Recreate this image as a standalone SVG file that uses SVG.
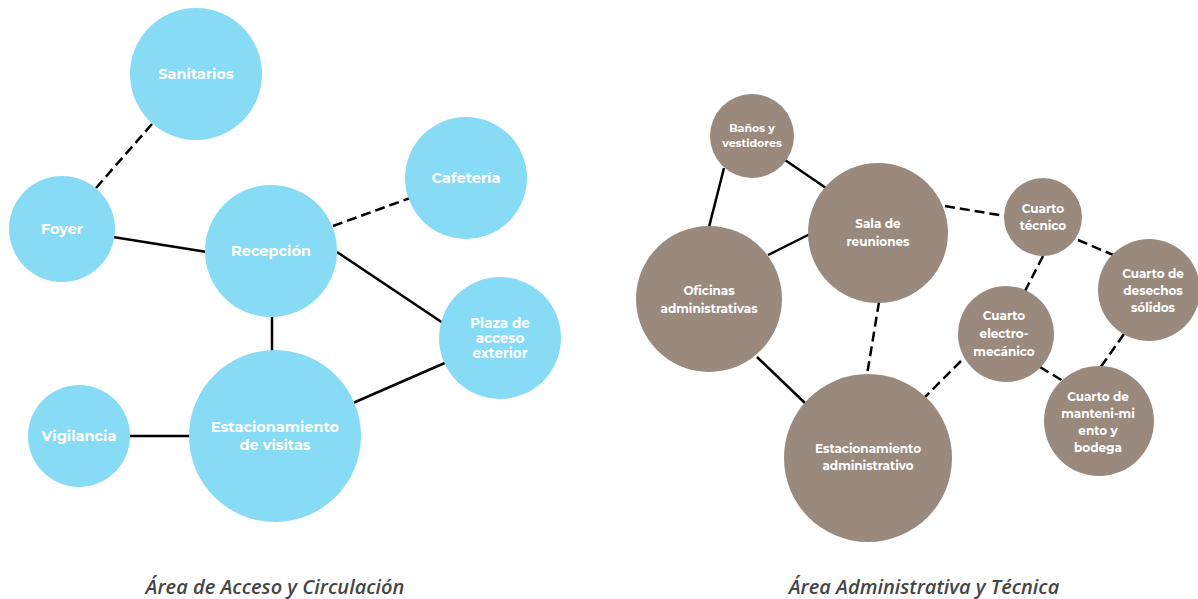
<svg xmlns="http://www.w3.org/2000/svg" width="1198" height="599" viewBox="0 0 1198 599">
<style>
.b{fill:#87dbf5}
.m{fill:#9a8a7e}
.t{font-family:Montserrat,"Open Sans","Liberation Sans",sans-serif;font-weight:700;fill:#fff;text-anchor:middle}
.tl{font-size:14.5px}
.tr{font-size:12px}
.s{stroke:#000;stroke-width:2.5;fill:none}
.d{stroke:#000;stroke-width:2.5;fill:none;stroke-dasharray:10 5}
.cap{font-family:"Open Sans","Liberation Sans",sans-serif;font-style:italic;font-weight:600;font-size:20px;fill:#454545;text-anchor:middle}
</style>
<rect width="1198" height="599" fill="#fff"/>
<g id="connectors">
<line class="d" x1="96" y1="188" x2="152" y2="124"/>
<line class="s" x1="113" y1="237" x2="207" y2="252"/>
<line class="d" x1="333" y1="226" x2="410" y2="198"/>
<line class="s" x1="337" y1="252" x2="443" y2="323"/>
<line class="s" x1="272" y1="315" x2="272" y2="352"/>
<line class="s" x1="353" y1="403" x2="447" y2="362"/>
<line class="s" x1="129" y1="436" x2="190" y2="436"/>
<line class="s" x1="724" y1="168" x2="709" y2="227"/>
<line class="s" x1="785" y1="160" x2="826" y2="188"/>
<line class="s" x1="768" y1="255" x2="810" y2="234"/>
<line class="d" x1="945" y1="206" x2="1005" y2="216"/>
<line class="d" x1="1078" y1="240" x2="1118" y2="257"/>
<line class="d" x1="1043" y1="256" x2="1025" y2="291"/>
<line class="d" x1="879" y1="302" x2="867" y2="375"/>
<line class="s" x1="757" y1="357" x2="806" y2="404"/>
<line class="d" x1="961" y1="361" x2="925" y2="397"/>
<line class="d" x1="1040" y1="367" x2="1063" y2="381"/>
<line class="d" x1="1124" y1="334" x2="1100" y2="368"/>
</g>
<g id="sanitarios"><circle class="b" cx="196" cy="74" r="66"/><text class="t tl" x="196" y="79">Sanitarios</text></g>
<g id="foyer"><circle class="b" cx="62" cy="229" r="53"/><text class="t tl" x="62" y="234">Foyer</text></g>
<g id="recepcion"><circle class="b" cx="271" cy="251" r="66"/><text class="t tl" x="271" y="256">Recepción</text></g>
<g id="cafeteria"><circle class="b" cx="466" cy="178" r="61"/><text class="t tl" x="466" y="183">Cafetería</text></g>
<g id="plaza"><circle class="b" cx="500" cy="338" r="61"/><text class="t" style="font-size:13.5px" x="500" y="328">Plaza de</text><text class="t" style="font-size:13.5px" x="500" y="343">acceso</text><text class="t" style="font-size:13.5px" x="500" y="358">exterior</text></g>
<g id="vigilancia"><circle class="b" cx="79" cy="436" r="51"/><text class="t tl" x="79" y="441">Vigilancia</text></g>
<g id="estac-visitas"><circle class="b" cx="275" cy="436" r="86"/><text class="t tl" x="275" y="432">Estacionamiento</text><text class="t tl" x="275" y="450">de visitas</text></g>
<g id="banos"><circle class="m" cx="752" cy="136" r="42"/><text class="t" style="font-size:11px" x="752" y="132">Baños y</text><text class="t" style="font-size:11px" x="752" y="147">vestidores</text></g>
<g id="sala"><circle class="m" cx="878" cy="233" r="70"/><text class="t tr" x="878" y="228">Sala de</text><text class="t tr" x="878" y="246">reuniones</text></g>
<g id="oficinas"><circle class="m" cx="709" cy="299" r="73"/><text class="t tr" x="709" y="295">Oficinas</text><text class="t tr" x="709" y="313">administrativas</text></g>
<g id="cuarto-tecnico"><circle class="m" cx="1043" cy="217" r="39"/><text class="t tr" x="1043" y="213">Cuarto</text><text class="t tr" x="1043" y="230">técnico</text></g>
<g id="desechos"><circle class="m" cx="1149" cy="290" r="51"/><text class="t tr" x="1153" y="278">Cuarto de</text><text class="t tr" x="1153" y="295">desechos</text><text class="t tr" x="1153" y="312">sólidos</text></g>
<g id="electro"><circle class="m" cx="1006" cy="334" r="48"/><text class="t tr" x="1004" y="320">Cuarto</text><text class="t tr" x="1004" y="338">electro-</text><text class="t tr" x="1004" y="356">mecánico</text></g>
<g id="mantenimiento"><circle class="m" cx="1099" cy="421" r="55"/><text class="t tr" x="1098" y="401">Cuarto de</text><text class="t tr" x="1098" y="418">manteni-mi</text><text class="t tr" x="1098" y="435">ento y</text><text class="t tr" x="1098" y="452">bodega</text></g>
<g id="estac-admin"><circle class="m" cx="868" cy="458" r="84"/><text class="t tr" x="868" y="453">Estacionamiento</text><text class="t tr" x="868" y="470">administrativo</text></g>
<text class="cap" x="275" y="594">Área de Acceso y Circulación</text>
<text class="cap" x="924" y="594">Área Administrativa y Técnica</text>
</svg>
